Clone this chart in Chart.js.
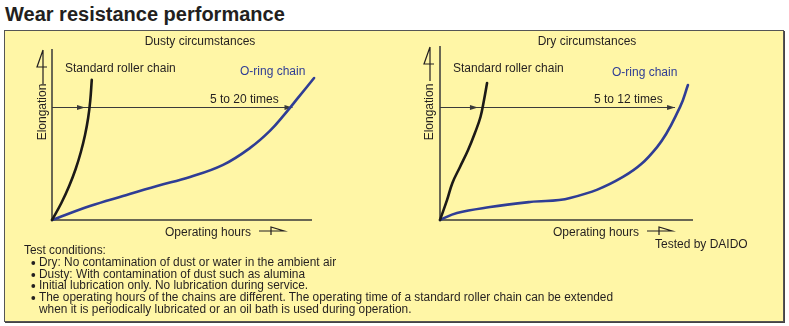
<!DOCTYPE html>
<html>
<head>
<meta charset="utf-8">
<title>Wear resistance performance</title>
<script src="https://cdn.jsdelivr.net/npm/chart.js@4.4.0/dist/chart.umd.min.js"></script>
<style>
  body { margin: 0; background: #fff; font-family: "Liberation Sans", Arial, sans-serif; }
  #page { position: relative; width: 789px; height: 326px; overflow: hidden; }
  h1 { position: absolute; left: 5px; top: 0; margin: 0; font-size: 20px; line-height: 28px; font-weight: bold; color: #231f20; }
  #box { position: absolute; left: 4px; top: 30px; width: 778px; height: 290px; background: #fff6a6; border: 1px solid #555; box-shadow: 1px 1px 0 #444; }
  canvas { position: absolute; }
  #dusty { left: 5px; top: 32px; }
  #dry { left: 395px; top: 32px; }
  #notes { position: absolute; left: 24px; top: 245px; font-size: 12.5px; line-height: 11.8px; color: #231f20; }
  #notes div { white-space: nowrap; transform-origin: 0 50%; }
  #notes .b { margin-left: 14px; position: relative; }
  #notes .b::before { content: ""; position: absolute; left: -8px; top: 4px; width: 4px; height: 4px; border-radius: 50%; background: #231f20; }
  #notes .c { margin-left: 14px; }
  #tested { position: absolute; left: 655px; top: 237px; font-size: 12px; color: #231f20; }
</style>
</head>
<body>
<div id="page">
  <h1>Wear resistance performance</h1>
  <div id="box"></div>
  <canvas id="dusty" width="390" height="214"></canvas>
  <canvas id="dry" width="389" height="214"></canvas>
  <div id="tested">Tested by DAIDO</div>
  <div id="notes">
    <div>Test conditions:</div>
    <div class="b">Dry: No contamination of dust or water in the ambient air</div>
    <div class="b">Dusty: With contamination of dust such as alumina</div>
    <div class="b">Initial lubrication only. No lubrication during service.</div>
    <div class="b" id="longNote">The operating hours of the chains are different. The operating time of a standard roller chain can be extended</div>
    <div class="c">when it is periodically lubricated or an oil bath is used during operation.</div>
  </div>
</div>
<script>
// operating hours (relative, 0-100) vs. elongation (relative, 0-100)
var dustyStdX   = [0, 3.6, 6.6, 9.1, 11.1, 12.7, 13.9, 14.7, 15.3];
var dustyStdY   = [0, 10, 20, 30, 40, 50, 60, 70, 82.4];
var dustyOringX = [0, 14.6, 27.3, 40.4, 53.1, 65.8, 76.2, 83.8, 89.6, 94.6, 100.8];
var dustyOringY = [0, 8.2, 14.1, 20, 25.3, 32.4, 42.4, 52.4, 62.4, 71.8, 83.5];

var dryStdX   = [0, 2.8, 4.9, 7.9, 11.1, 13.8, 16.0, 17.4, 18.6];
var dryStdY   = [0, 11.8, 21.8, 31.2, 41.2, 51.2, 60.6, 70.6, 80.6];
var dryOringX = [0, 6.7, 19.8, 35.6, 51.4, 72.3, 85.8, 94.9, 98];
var dryOringY = [0, 4.1, 7.6, 10.6, 12.9, 25.3, 42.9, 66.5, 79.4];

// elongation limit and where each chain reaches it
var limitLevel = 66.5;
var dustyLimitAt = [12.7, 92.5];
var dryLimitAt = [15, 92.9];

var ratioLabels = ['5 to 20 times', '5 to 12 times'];

// condensed footnotes: squeeze so the long line spans ~574px
(function () {
  var el = document.getElementById('longNote');
  var k = 574 / el.scrollWidth;
  document.querySelectorAll('#notes div').forEach(function (d) {
    d.style.transform = 'scaleX(' + k + ')';
  });
  document.querySelectorAll('#notes .b, #notes .c').forEach(function (d) {
    d.style.marginLeft = (14 / k) + 'px';
  });
})();

function pts(xs, ys) {
  return xs.map(function (x, i) { return { x: x, y: ys[i] }; });
}

function arrowHead(ctx, x, y, dir) {
  ctx.beginPath();
  ctx.moveTo(x, y);
  ctx.lineTo(x - 8 * dir, y - 2.5);
  ctx.lineTo(x - 8 * dir, y + 2.5);
  ctx.closePath();
  ctx.fill();
}

var decor = {
  id: 'decor',
  beforeDatasetsDraw: function (chart, args, o) {
    var ctx = chart.ctx, a = chart.chartArea, xs = chart.scales.x, ys = chart.scales.y;
    ctx.save();
    ctx.strokeStyle = '#3a3a3a';
    ctx.fillStyle = '#3a3a3a';
    ctx.lineWidth = 1.5;
    ctx.beginPath();
    ctx.moveTo(a.left, a.top - o.axisRise);
    ctx.lineTo(a.left, a.bottom);
    ctx.lineTo(a.right, a.bottom);
    ctx.stroke();

    // limit line with arrows up to each curve
    var ly = Math.round(ys.getPixelForValue(limitLevel)) + 0.5;
    ctx.lineWidth = 1;
    ctx.beginPath();
    ctx.moveTo(a.left, ly);
    ctx.lineTo(xs.getPixelForValue(o.limitAt[1]), ly);
    ctx.stroke();
    arrowHead(ctx, xs.getPixelForValue(o.limitAt[0]), ly, 1);
    arrowHead(ctx, xs.getPixelForValue(o.limitAt[1]), ly, 1);
    ctx.restore();
  },
  afterDatasetsDraw: function (chart, args, o) {
    var ctx = chart.ctx, a = chart.chartArea;
    ctx.save();
    ctx.font = '12px "Liberation Sans", Arial, sans-serif';
    ctx.textBaseline = 'middle';
    ctx.fillStyle = '#231f20';
    ctx.textAlign = 'center';
    ctx.fillText(o.title, o.titleX, 10);
    ctx.fillText('Operating hours', o.hoursX, 201);
    ctx.textAlign = 'left';
    ctx.fillText('Standard roller chain', o.stdX, 37);
    ctx.fillText(o.ratio, o.ratioX, 68);
    ctx.fillStyle = '#2f3d95';
    ctx.fillText('O-ring chain', o.oringX, o.oringY);

    // vertical axis label with its arrow
    var gx = o.glyphX;
    ctx.fillStyle = '#231f20';
    ctx.save();
    ctx.translate(gx, 80);
    ctx.rotate(-Math.PI / 2);
    ctx.textAlign = 'center';
    ctx.fillText('Elongation', 0, 0);
    ctx.restore();
    ctx.strokeStyle = '#231f20';
    ctx.lineWidth = 1.2;
    var top = a.top - o.axisRise + 1;
    ctx.beginPath();
    ctx.moveTo(gx, top); ctx.lineTo(gx, top + 34);
    ctx.moveTo(gx, top); ctx.lineTo(gx - 6, top + 17);
    ctx.lineTo(gx + 4, top + 17);
    ctx.stroke();

    // horizontal axis arrow after "Operating hours"
    var hx = o.hoursX + 51, hy = 199;
    ctx.beginPath();
    ctx.moveTo(hx, hy); ctx.lineTo(hx + 25, hy);
    ctx.lineTo(hx + 12, hy - 4);
    ctx.lineTo(hx + 12, hy + 4);
    ctx.stroke();
    ctx.restore();
  }
};

function panel(id, stdPts, oringPts, pad, o) {
  var line = { showLine: true, borderWidth: 2.6, pointRadius: 0, tension: 0.4,
    borderCapStyle: 'round', borderJoinStyle: 'round', clip: false };
  return new Chart(document.getElementById(id), {
    type: 'scatter',
    data: {
      datasets: [
        Object.assign({ label: 'Standard roller chain', data: stdPts, borderColor: '#1c1a17' }, line),
        Object.assign({ label: 'O-ring chain', data: oringPts, borderColor: '#2f3d95' }, line)
      ]
    },
    options: {
      responsive: false,
      animation: false,
      layout: { padding: pad },
      scales: {
        x: { type: 'linear', min: 0, max: 100, display: false },
        y: { type: 'linear', min: 0, max: 100, display: false }
      },
      plugins: { legend: { display: false }, tooltip: { enabled: false }, decor: o }
    },
    plugins: [decor]
  });
}

panel('dusty', pts(dustyStdX, dustyStdY), pts(dustyOringX, dustyOringY),
  { left: 47, right: 83, top: 18, bottom: 26 },
  { title: 'Dusty circumstances', titleX: 195, hoursX: 203, stdX: 60, oringX: 235, oringY: 40,
    ratio: ratioLabels[0], ratioX: 205, glyphX: 38, axisRise: 1, limitAt: dustyLimitAt });

panel('dry', pts(dryStdX, dryStdY), pts(dryOringX, dryOringY),
  { left: 45, right: 91, top: 18, bottom: 26 },
  { title: 'Dry circumstances', titleX: 192, hoursX: 201, stdX: 58, oringX: 217, oringY: 41,
    ratio: ratioLabels[1], ratioX: 199, glyphX: 35, axisRise: 4, limitAt: dryLimitAt });
</script>
</body>
</html>
